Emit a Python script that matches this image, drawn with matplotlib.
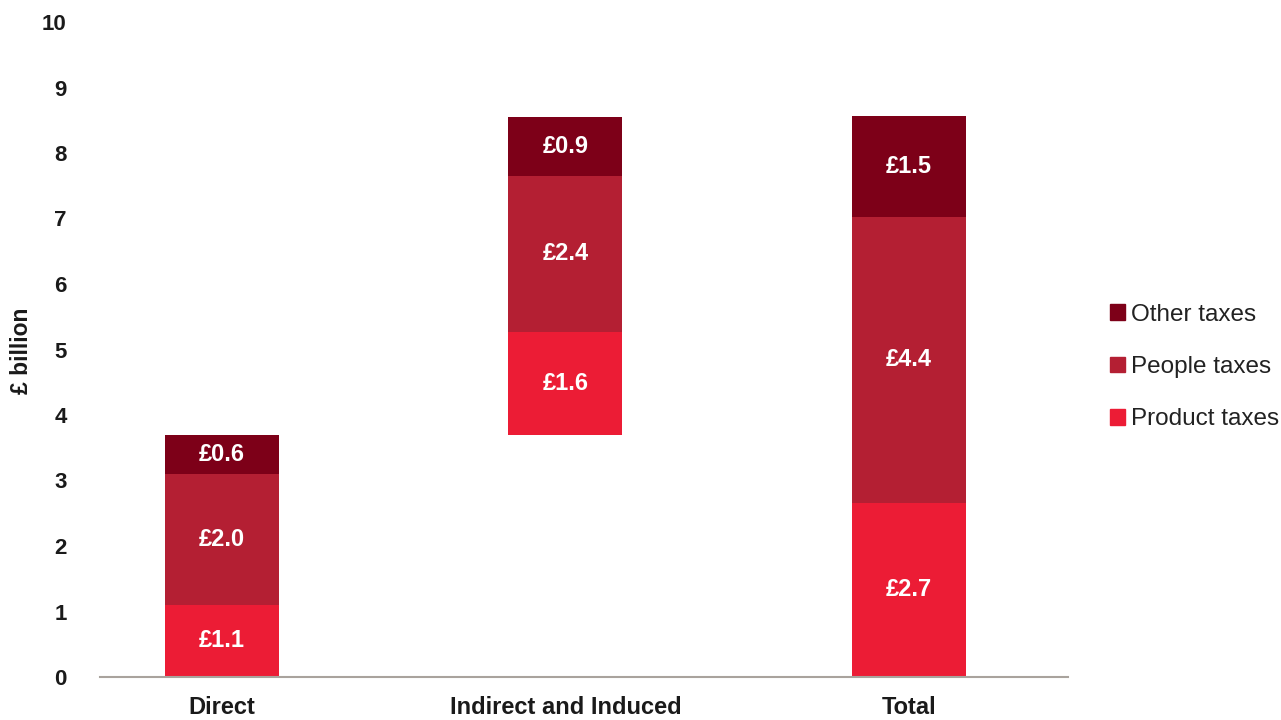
import numpy as np
import matplotlib.pyplot as plt
from matplotlib.patches import Patch

plt.rcParams['font.family'] = ['Liberation Sans', 'DejaVu Sans']

categories = ['Direct', 'Indirect and Induced', 'Total']
product = [1.1, 1.57, 2.66]
people = [2.0, 2.38, 4.37]
other = [0.6, 0.9, 1.53]
base = [0.0, 3.7, 0.0]

c_product = '#EC1C35'
c_people = '#B41F33'
c_other = '#7D0018'

fig = plt.figure(figsize=(12.81, 7.2), dpi=100)
ax = fig.add_axes([100 / 1281, 43 / 720, 968 / 1281, 655 / 720])

x = np.arange(len(categories))
w = 0.332
b = np.array(base)
for vals, col in [(product, c_product), (people, c_people), (other, c_other)]:
    v = np.array(vals)
    ax.bar(x, v, w, bottom=b, color=col, linewidth=0)
    for xi, bi, vi in zip(x, b, v):
        ax.text(xi, bi + vi / 2, f'£{vi:.1f}', ha='center', va='center',
                color='white', fontsize=17, fontweight='bold')
    b = b + v

ax.set_xlim(-0.355, 2.463)
ax.set_ylim(0, 10)
ax.set_yticks(range(0, 11))
ax.set_xticks(x)
ax.set_xticklabels(categories, fontsize=17, fontweight='bold', color='#1a1a1a')
for lab in ax.get_yticklabels():
    lab.set_fontweight('bold')
    lab.set_fontsize(16)
    lab.set_color('#1a1a1a')
ax.tick_params(axis='y', length=0, pad=24)
ax.tick_params(axis='x', length=0, pad=14)
for s in ['top', 'right', 'left']:
    ax.spines[s].set_visible(False)
ax.spines['bottom'].set_color('#A9A39D')
ax.spines['bottom'].set_linewidth(1.5)

fig.text(22 / 1281, 1 - 351 / 720, '£ billion', rotation=90, ha='center', va='center',
         fontsize=16.5, fontweight='bold', color='#1a1a1a')

handles = [Patch(color=c_other, label='Other taxes'),
           Patch(color=c_people, label='People taxes'),
           Patch(color=c_product, label='Product taxes')]
fig.legend(handles=handles, loc='center left', bbox_to_anchor=(1088 / 1281, 1 - 367 / 720),
           frameon=False, fontsize=17.5, handlelength=0.62, handleheight=0.62,
           handletextpad=0.25, labelspacing=1.25, labelcolor='#222222')

fig.savefig('out.png', dpi=100)
